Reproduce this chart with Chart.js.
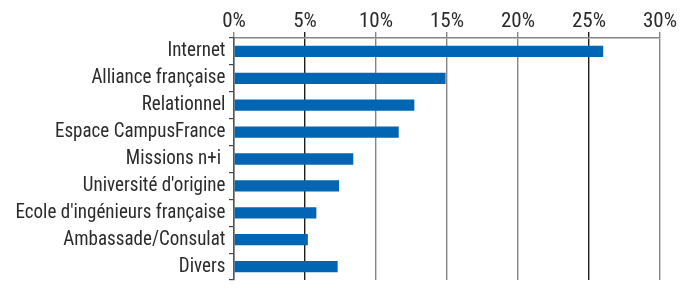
<!DOCTYPE html>
<html>
<head>
<meta charset="utf-8">
<script src="https://cdn.jsdelivr.net/npm/chart.js@4/dist/chart.umd.min.js"></script>
<style>
	html, body { margin: 0; padding: 0; background: #fff; }
	#wrap { width: 696px; height: 296px; }
</style>
</head>
<body>
<div id="wrap"><canvas id="srcChart"></canvas></div>
<script>
/* ── 데이터 ── */
const categories = [
	'Internet',
	'Alliance française',
	'Relationnel',
	'Espace CampusFrance',
	'Missions n+i ',
	"Université d'origine",
	"Ecole d'ingénieurs française",
	'Ambassade/Consulat',
	'Divers'
];
const shares = [26.0, 14.9, 12.7, 11.6, 8.4, 7.4, 5.8, 5.2, 7.3];
const tickMin = 0, tickMax = 30, tickStep = 5;

const TEXT = '#2b2b2b';

/* ── 좁은 글꼴 고르기: 설치된 것 중 첫 번째 ── */
const mctx = document.createElement('canvas').getContext('2d');
function measure(font, text) { mctx.font = font; return mctx.measureText(text).width; }

function pickNarrowFont() {
	const sample = "Ecole d'ingénieurs française";
	const mono = measure('20px monospace', sample);
	const cands = [
		{ style: '', family: "'Liberation Sans Narrow'" },
		{ style: '', family: "'Noto Sans Condensed'" },
		{ style: '', family: "'Roboto Condensed'" },
		{ style: 'normal condensed', family: "'Noto Sans'" },
		{ style: 'normal condensed', family: "'Open Sans'" },
		{ style: '', family: "'DejaVu Sans Condensed'" },
		{ style: 'normal condensed', family: "'DejaVu Sans'" }
	];
	for (var i = 0; i < cands.length; i++) {
		var c = cands[i];
		var w = measure((c.style ? c.style + ' ' : '') + '20px ' + c.family + ', monospace', sample);
		if (Math.abs(w - mono) > 0.5) {
			if (c.style) {
				var plain = measure('20px ' + c.family + ', monospace', sample);
				if (w >= plain - 0.5) continue;
			}
			c.width20 = w;
			return c;
		}
	}
	return { style: '', family: 'sans-serif', width20: measure('20px sans-serif', sample) };
}

const picked = pickNarrowFont();
const FONT = picked.family + ', sans-serif';
const FSTYLE = picked.style || undefined;
const PFX = picked.style ? picked.style + ' ' : '';

// 라벨: 원본 글자 높이(20px)를 유지하고 가로로만 좁혀서 가장 긴 라벨 ≈ 210px
const labelSize = 20;
const squeeze = Math.min(1, 210 / (picked.width20 * labelSize / 20));
// 눈금: "30%" 폭 ≈ 37px
const tickSize = Math.min(21, Math.round(20 * 37 / measure(PFX + '20px ' + FONT, '30%') * 10) / 10);

/* 라벨을 가로로 압축해서 그리는 카테고리 축 */
class SqueezedCategory extends Chart.CategoryScale {
	drawLabels(area) {
		const ctx = this.ctx;
		ctx.save();
		ctx.translate(this.right, 0);
		ctx.scale(squeeze, 1);
		ctx.translate(-this.right, 0);
		super.drawLabels(area);
		ctx.restore();
	}
}
SqueezedCategory.id = 'squeezedCategory';
SqueezedCategory.defaults = Chart.CategoryScale.defaults;
Chart.register(SqueezedCategory);

new Chart(document.getElementById('srcChart'), {
	type: 'bar',
	data: {
		labels: categories,
		datasets: [{
			data: shares,
			backgroundColor: '#0066b3',
			categoryPercentage: 1,
			barPercentage: 0.42
		}]
	},
	options: {
		indexAxis: 'y',
		responsive: true,
		maintainAspectRatio: false,
		animation: false,
		layout: { padding: { left: 0, right: 36, top: 0, bottom: 0 } },
		plugins: { legend: { display: false }, tooltip: { enabled: false } },
		scales: {
			x: {
				position: 'top',
				min: tickMin, max: tickMax,
				afterFit: function(s) { s.height = 38; },
				ticks: {
					stepSize: tickStep,
					padding: -2,
					color: TEXT,
					font: { family: FONT, size: tickSize, style: FSTYLE },
					callback: function(v) { return v + '%'; }
				},
				grid: {
					color: function(c) { return (c.tick && (c.tick.value === 5 || c.tick.value === 25)) ? '#1e1e1e' : '#858585'; },
					lineWidth: 1.4,
					tickLength: 6
				},
				border: { color: '#858585', width: 1.4 }
			},
			y: {
				type: 'squeezedCategory',
				offset: true,
				afterFit: function(s) { s.width = 234; },
				ticks: {
					autoSkip: false,
					padding: 4,
					color: TEXT,
					font: { family: FONT, size: labelSize, style: FSTYLE }
				},
				grid: { drawOnChartArea: false, offset: true, color: '#444', tickLength: 5, lineWidth: 1.2 },
				border: { color: '#555', width: 1.5 }
			}
		}
	}
});
</script>
</body>
</html>
